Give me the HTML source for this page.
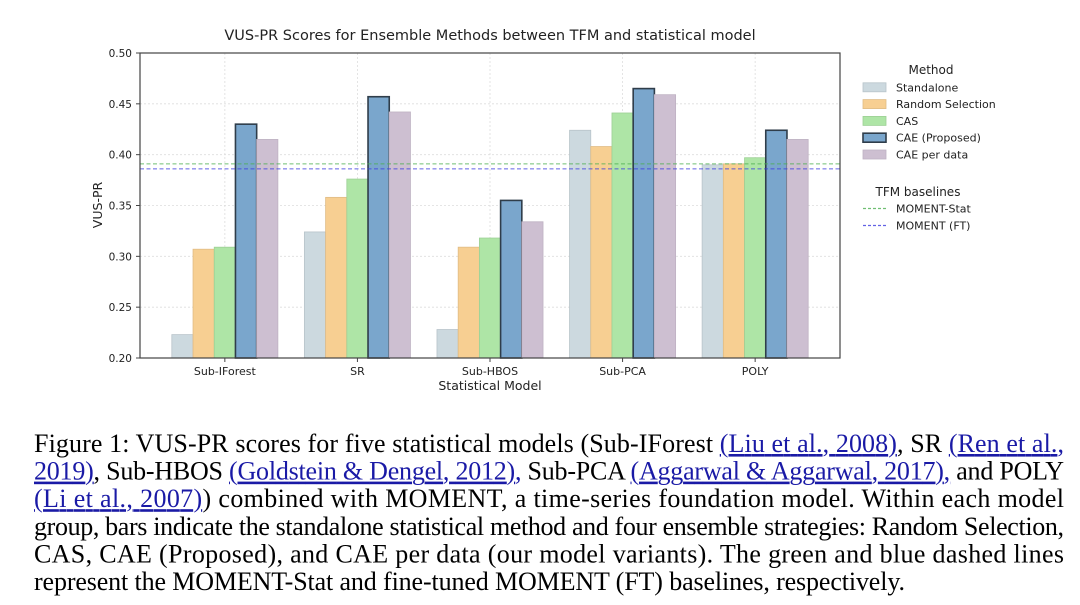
<!DOCTYPE html>
<html><head><meta charset="utf-8">
<style>
html,body{margin:0;padding:0;background:#fff;width:1080px;height:605px;overflow:hidden}
svg{display:block}
.t{font-family:"DejaVu Sans","Liberation Sans",sans-serif;fill:#222}
.cap{font-family:"Liberation Serif",serif;font-size:26px;fill:#000}
.lk{fill:#1a1aa6;text-decoration:underline}
</style></head>
<body>
<svg id="chart" width="1080" height="605" xmlns="http://www.w3.org/2000/svg">
<g id="grid"></g>
<g id="bars"></g>
<g id="baselines"></g>
<rect x="140" y="53" width="700" height="305" fill="none" stroke="#444" stroke-width="1.2"/>
<g id="yticks"></g>
<g id="xticks"></g>
<text class="t" x="490" y="40" font-size="14.5" text-anchor="middle">VUS-PR Scores for Ensemble Methods between TFM and statistical model</text>
<text class="t" font-size="12.5" text-anchor="middle" transform="translate(102,205) rotate(-90)">VUS-PR</text>
<text class="t" x="490" y="390" font-size="12.5" text-anchor="middle">Statistical Model</text>
<g id="legend">
<text class="t" x="931" y="74" font-size="12" text-anchor="middle">Method</text>
<text class="t" x="918" y="196" font-size="12" text-anchor="middle">TFM baselines</text>
</g>
<g>
<text class="cap" x="34" y="452" textLength="1030" lengthAdjust="spacing">Figure 1: VUS-PR scores for five statistical models (Sub-IForest <tspan class="lk">(Liu et al., 2008)</tspan>, SR <tspan class="lk">(Ren et al.,</tspan></text>
<text class="cap" x="34" y="479.6" textLength="1030" lengthAdjust="spacing"><tspan class="lk">2019)</tspan>, Sub-HBOS <tspan class="lk">(Goldstein &amp; Dengel, 2012),</tspan> Sub-PCA <tspan class="lk">(Aggarwal &amp; Aggarwal, 2017),</tspan> and POLY</text>
<text class="cap" x="34" y="507.2" textLength="1030" lengthAdjust="spacing"><tspan class="lk">(Li et al., 2007)</tspan>) combined with MOMENT, a time-series foundation model. Within each model</text>
<text class="cap" x="34" y="534.8" textLength="1030" lengthAdjust="spacing">group, bars indicate the standalone statistical method and four ensemble strategies: Random Selection,</text>
<text class="cap" x="34" y="562.4" textLength="1030" lengthAdjust="spacing">CAS, CAE (Proposed), and CAE per data (our model variants). The green and blue dashed lines</text>
<text class="cap" x="34" y="590" textLength="871" lengthAdjust="spacing">represent the MOMENT-Stat and fine-tuned MOMENT (FT) baselines, respectively.</text>
</g>
</svg>
<script>
const categories = ["Sub-IForest","SR","Sub-HBOS","Sub-PCA","POLY"];
const methods = ["Standalone","Random Selection","CAS","CAE (Proposed)","CAE per data"];
const standalone = [0.223,0.324,0.228,0.424,0.390];
const randomSel = [0.307,0.358,0.309,0.408,0.391];
const cas = [0.309,0.376,0.318,0.441,0.397];
const caeProposed = [0.430,0.457,0.355,0.465,0.424];
const caePerData = [0.415,0.442,0.334,0.459,0.415];
const baselineNames = ["MOMENT-Stat","MOMENT (FT)"];
const baselineValues = [0.391,0.386];
const yTicks = [0.20,0.25,0.30,0.35,0.40,0.45,0.50];

const series=[standalone,randomSel,cas,caeProposed,caePerData];
const fills=["#ccd9df","#f7cf92","#aee5a6","#7aa6cc","#cdbfd1"];
const strokes=["#b8c4ca","#e0bc85","#9dd095","#2f3d4a","#bfb2c3"];
const sw=[0.8,0.8,0.8,1.6,0.8];
const bcol=["#4caf50","#3b3bdf"];
const NS="http://www.w3.org/2000/svg";
const X0=140,X1=840,Y0=358,Y1=53;
const xmin=-0.64,xmax=4.64,ymin=0.2,ymax=0.5;
const bw=0.16;
function xs(v){return X0+(v-xmin)/(xmax-xmin)*(X1-X0);}
function ys(v){return Y0-(v-ymin)/(ymax-ymin)*(Y0-Y1);}
function mk(tag,attrs,parent){const e=document.createElementNS(NS,tag);for(const k in attrs)e.setAttribute(k,attrs[k]);parent.appendChild(e);return e;}
const grid=document.getElementById('grid'),bars=document.getElementById('bars'),bl=document.getElementById('baselines');
const yt=document.getElementById('yticks'),xt=document.getElementById('xticks'),lg=document.getElementById('legend');
yTicks.forEach(v=>{
  const y=ys(v);
  const g=mk('line',{x1:X0,x2:X1,y1:y,y2:y,stroke:'#ddd','stroke-width':0.8,'stroke-dasharray':'2,2'},grid);
  
  
  const tk=mk('line',{x1:X0-4,x2:X0,y1:y,y2:y,stroke:'#444'},yt);
  
  
  const t=mk('text',{x:X0-8,y:y+4,'font-size':10.5,'text-anchor':'end',class:'t'},yt);
  t.textContent=v.toFixed(2);
  
  
});
categories.forEach((c,i)=>{
  const x=xs(i);
  const g=mk('line',{x1:x,x2:x,y1:Y1,y2:Y0,stroke:'#ddd','stroke-width':0.8,'stroke-dasharray':'2,2'},grid);
  
  
  const tk=mk('line',{x1:x,x2:x,y1:Y0,y2:Y0+4,stroke:'#444'},xt);
  
  
  const t=mk('text',{x:x,y:Y0+17,'font-size':11,'text-anchor':'middle',class:'t'},xt);
  t.textContent=c;
  
  
  series.forEach((s,j)=>{
    const cx=i+(j-2)*bw;
    const xl=xs(cx-bw/2),xr=xs(cx+bw/2),yv=ys(s[i]);
    const r=mk('rect',{x:xl,y:yv,width:xr-xl,height:Y0-yv,fill:fills[j],stroke:strokes[j],'stroke-width':sw[j]},bars);
    
    
  });
});
baselineValues.forEach((v,k)=>{
  const y=ys(v);
  const l=mk('line',{x1:X0,x2:X1,y1:y,y2:y,stroke:bcol[k],'stroke-width':1,'stroke-dasharray':'4,2.5','stroke-opacity':0.8},bl);
  
  
});
methods.forEach((m,j)=>{
  const y=87.3+j*16.8;
  const r=mk('rect',{x:863,y:y-4.5,width:23,height:9,fill:fills[j],stroke:strokes[j],'stroke-width':sw[j]},lg);
  
  
  const t=mk('text',{x:896,y:y+4,'font-size':11,class:'t'},lg);
  t.textContent=m;
  
  
});
baselineNames.forEach((m,k)=>{
  const y=208.5+k*17;
  const l=mk('line',{x1:863,x2:886,y1:y,y2:y,stroke:bcol[k],'stroke-width':1.3,'stroke-dasharray':'3,2','stroke-opacity':0.8},lg);
  
  
  const t=mk('text',{x:896,y:y+4,'font-size':11,class:'t'},lg);
  t.textContent=m;
  
  
});
</script>
</body></html>
